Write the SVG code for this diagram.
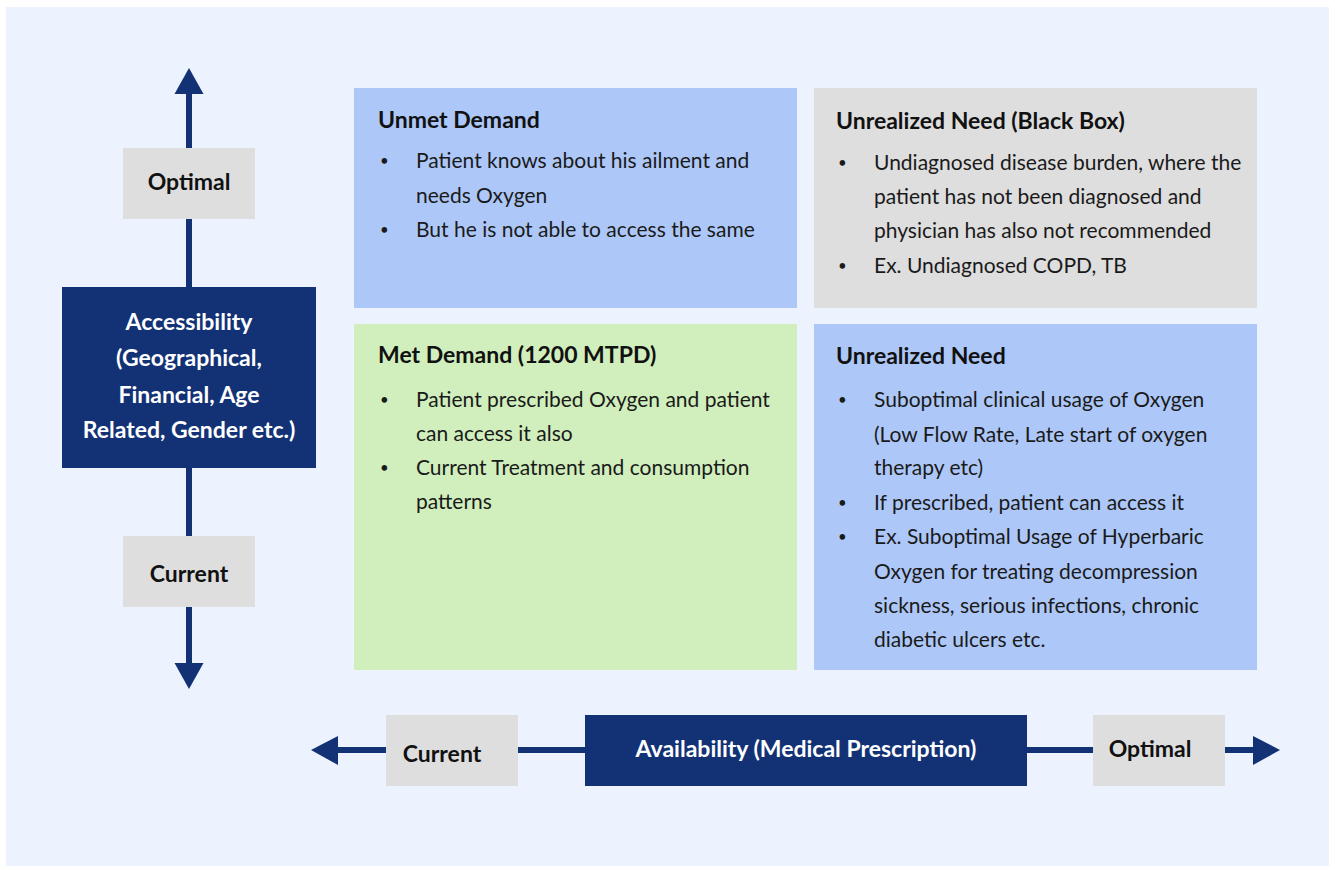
<svg xmlns="http://www.w3.org/2000/svg" width="1335" height="870" viewBox="0 0 1335 870">
  <style>
    .axis { stroke: #133275; stroke-width: 6; fill: none; }
    .head { fill: #133275; }
    .navy { fill: #133275; }
    .tag { fill: #DEDEDE; }
    .blue { fill: #ADC8F8; }
    .grey { fill: #DEDEDE; }
    .green { fill: #D0EFBD; }
    text { font-family: Lato, "Open Sans", "Liberation Sans", sans-serif; }
    .lbl { font-size: 23px; font-weight: 700; fill: #111; text-anchor: middle; }
    .wlbl { font-size: 23px; font-weight: 700; fill: #FFFFFF; text-anchor: middle; }
    .ttl { font-size: 23px; font-weight: 700; fill: #111; }
    .body { font-size: 21px; fill: #1a1a1a; }
    .dot { font-size: 15px; }
  </style>

  <!-- page background -->
  <rect x="0" y="0" width="1335" height="870" fill="#FFFFFF"/>
  <rect x="6" y="7" width="1323" height="859" fill="#ECF2FE"/>

  <!-- axes -->
  <g id="connectors">
    <line class="axis" x1="189" y1="92" x2="189" y2="665"/>
    <polygon class="head" points="189,68 174.5,94 203.5,94"/>
    <polygon class="head" points="189,689 174.5,663 203.5,663"/>
    <line class="axis" x1="336" y1="750" x2="1255" y2="750"/>
    <polygon class="head" points="311,750 338,736 338,765"/>
    <polygon class="head" points="1280,750 1253,736 1253,765"/>
  </g>

  <!-- vertical axis labels -->
  <g id="v-optimal">
    <rect class="tag" x="123" y="148" width="132" height="71"/>
    <text class="lbl" x="189" y="190">Optimal</text>
  </g>
  <g id="accessibility">
    <rect class="navy" x="62" y="287" width="254" height="181"/>
    <text class="wlbl" x="189" y="330">Accessibility</text>
    <text class="wlbl" x="189" y="366">(Geographical,</text>
    <text class="wlbl" x="189" y="403">Financial, Age</text>
    <text class="wlbl" x="189" y="438">Related, Gender etc.)</text>
  </g>
  <g id="v-current">
    <rect class="tag" x="123" y="536" width="132" height="71"/>
    <text class="lbl" x="189" y="582">Current</text>
  </g>

  <!-- horizontal axis labels -->
  <g id="h-current">
    <rect class="tag" x="386" y="715" width="132" height="71"/>
    <text class="lbl" x="442" y="762">Current</text>
  </g>
  <g id="availability">
    <rect class="navy" x="585" y="715" width="442" height="71"/>
    <text class="wlbl" x="806" y="757">Availability (Medical Prescription)</text>
  </g>
  <g id="h-optimal">
    <rect class="tag" x="1093" y="715" width="132" height="71"/>
    <text class="lbl" x="1150" y="757">Optimal</text>
  </g>

  <!-- quadrants -->
  <g id="unmet-demand">
    <rect class="blue" x="354" y="88" width="443" height="220"/>
    <text class="ttl" x="378" y="128">Unmet Demand</text>
    <text class="body">
      <tspan class="dot" x="380" y="166">•</tspan><tspan x="416" y="168">Patient knows about his ailment and</tspan>
      <tspan x="416" y="203">needs Oxygen</tspan>
      <tspan class="dot" x="380" y="235">•</tspan><tspan x="416" y="237">But he is not able to access the same</tspan>
    </text>
  </g>

  <g id="unrealized-black-box">
    <rect class="grey" x="814" y="88" width="443" height="220"/>
    <text class="ttl" x="836" y="129">Unrealized Need (Black Box)</text>
    <text class="body">
      <tspan class="dot" x="838" y="168">•</tspan><tspan x="874" y="170">Undiagnosed disease burden, where the</tspan>
      <tspan x="874" y="204">patient has not been diagnosed and</tspan>
      <tspan x="874" y="238">physician has also not recommended</tspan>
      <tspan class="dot" x="838" y="271">•</tspan><tspan x="874" y="273">Ex. Undiagnosed COPD, TB</tspan>
    </text>
  </g>

  <g id="met-demand">
    <rect class="green" x="354" y="324" width="443" height="346"/>
    <text class="ttl" x="378" y="363">Met Demand (1200 MTPD)</text>
    <text class="body">
      <tspan class="dot" x="380" y="405">•</tspan><tspan x="416" y="407">Patient prescribed Oxygen and patient</tspan>
      <tspan x="416" y="441">can access it also</tspan>
      <tspan class="dot" x="380" y="473">•</tspan><tspan x="416" y="475">Current Treatment and consumption</tspan>
      <tspan x="416" y="509">patterns</tspan>
    </text>
  </g>

  <g id="unrealized-need">
    <rect class="blue" x="814" y="324" width="443" height="346"/>
    <text class="ttl" x="836" y="364">Unrealized Need</text>
    <text class="body">
      <tspan class="dot" x="838" y="405">•</tspan><tspan x="874" y="407">Suboptimal clinical usage of Oxygen</tspan>
      <tspan x="874" y="442">(Low Flow Rate, Late start of oxygen</tspan>
      <tspan x="874" y="475">therapy etc)</tspan>
      <tspan class="dot" x="838" y="508">•</tspan><tspan x="874" y="510">If prescribed, patient can access it</tspan>
      <tspan class="dot" x="838" y="542">•</tspan><tspan x="874" y="544">Ex. Suboptimal Usage of Hyperbaric</tspan>
      <tspan x="874" y="579">Oxygen for treating decompression</tspan>
      <tspan x="874" y="613">sickness, serious infections, chronic</tspan>
      <tspan x="874" y="647">diabetic ulcers etc.</tspan>
    </text>
  </g>
</svg>
